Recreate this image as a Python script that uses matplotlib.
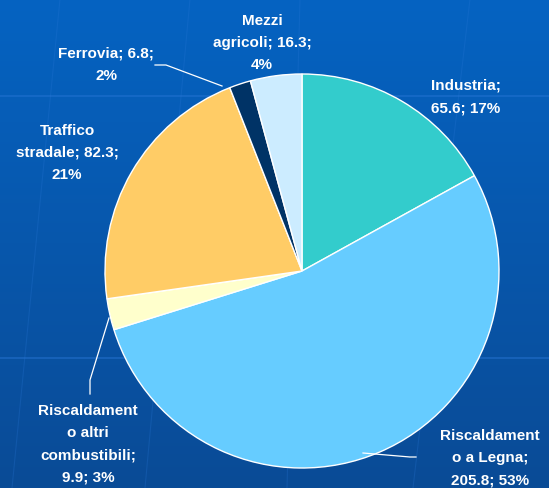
import numpy as np
import matplotlib
matplotlib.use("Agg")
from matplotlib import pyplot as plt

# Emission sources (values and shares as shown on the chart)
sources = ["Industria", "Riscaldamento a Legna", "Riscaldamento altri combustibili",
           "Traffico stradale", "Ferrovia", "Mezzi agricoli"]
values = [65.6, 205.8, 9.9, 82.3, 6.8, 16.3]
percents = [17, 53, 3, 21, 2, 4]
label_texts = [
    "Industria;\n65.6; 17%",
    "Riscaldament\no a Legna;\n205.8; 53%",
    "Riscaldament\no altri\ncombustibili;\n9.9; 3%",
    "Traffico\nstradale; 82.3;\n21%",
    "Ferrovia; 6.8;\n2%",
    "Mezzi\nagricoli; 16.3;\n4%",
]
colors = ["#33CCCC", "#66CCFF", "#FFFFCC", "#FFCC66", "#003366", "#CCECFF"]

W, H = 549, 489
plt.rcParams['font.family'] = ['Liberation Sans', 'DejaVu Sans']

fig = plt.figure(figsize=(W / 100, H / 100), dpi=100)

# Blue gradient background with faint grid lines
bg = fig.add_axes([0, 0, 1, 1])
top = np.array([0x05, 0x63, 0xC2]) / 255
bottom = np.array([0x0A, 0x4B, 0x96]) / 255
t = np.linspace(0, 1, 256)[:, None]
grad = (top[None, :] * (1 - t) + bottom[None, :] * t)[:, None, :]
bg.imshow(grad, aspect='auto', extent=[0, W, H, 0])
for y in [97, 359]:
    bg.plot([0, W], [y, y], color="#2a78d8", lw=1.2, alpha=0.5)
for x0, x1 in [(60, 12), (190, 145), (300, 287), (470, 413)]:
    bg.plot([x0, x1], [0, H], color="#2a78d8", lw=0.8, alpha=0.25)
bg.set_xlim(0, W)
bg.set_ylim(H, 0)
bg.axis('off')

ax = fig.add_axes([0, 0, 1, 1])
ax.patch.set_alpha(0)


def py(y):
    return H - y


ax.pie(values, colors=colors, startangle=90, counterclock=False,
       center=(302, py(272)), radius=197,
       wedgeprops=dict(edgecolor="white", linewidth=1.0))

# label positions in pixel coordinates (center of text block)
label_pos = [(466, 97), (490, 458), (88, 444), (67, 153), (106, 65), (262, 43)]
for txt, (x, y) in zip(label_texts, label_pos):
    ax.text(x, py(y), txt, ha="center", va="center", color="white",
            fontsize=11, fontweight="bold", linespacing=1.75)

# leader lines
leaders = [
    [(155, 66), (166, 66), (222, 87)],
    [(90, 395), (90, 381), (109, 319)],
    [(363, 454), (410, 458), (416, 458)],
]
for pts in leaders:
    xs = [p[0] for p in pts]
    ys = [py(p[1]) for p in pts]
    ax.plot(xs, ys, color="white", lw=0.9)

ax.set_xlim(0, W)
ax.set_ylim(0, H)
ax.set_aspect('equal')
ax.axis('off')

fig.savefig("out.png", dpi=100)
